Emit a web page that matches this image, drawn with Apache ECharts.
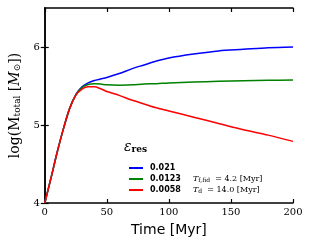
<!DOCTYPE html>
<html><head><meta charset="utf-8">
<script src="https://cdn.jsdelivr.net/npm/echarts@6/dist/echarts.min.js"></script>
<style>html,body{margin:0;padding:0;background:#fff}#c{width:312px;height:249px}</style>
</head><body><div id="c"></div>
<script>
const time = [0,5,10,15,20,25,30,35,40,45,50,60,70,80,90,100,120,140,160,180,200];
const blue  = [4.0,4.32,4.65,4.95,5.21,5.39,5.49,5.54,5.57,5.59,5.61,5.66,5.72,5.77,5.82,5.86,5.91,5.95,5.97,5.99,6.0];
const green = [4.0,4.32,4.65,4.95,5.21,5.385,5.48,5.52,5.53,5.525,5.515,5.51,5.515,5.525,5.53,5.54,5.55,5.56,5.567,5.573,5.578];
const red   = [4.0,4.32,4.65,4.95,5.21,5.38,5.46,5.49,5.49,5.465,5.43,5.38,5.32,5.27,5.22,5.18,5.10,5.02,4.94,4.87,4.79];
const seriesNames = ['0.021','0.0123','0.0058'];
const seriesColors = ['#0000ff','#008000','#ff0000'];
const xTicks = [0,50,100,150,200];
const yTicks = [4,5,6];

const pairs = arr => time.map((t,i)=>[t,arr[i]]);
const chart = echarts.init(document.getElementById('c'), null, {renderer:'canvas'});
const serif = 'DejaVu Serif';
const axisCommon = {
  axisLine:{show:true,lineStyle:{color:'#000',width:1.5}},
  splitLine:{show:false}
};
chart.setOption({
  animation:false,
  grid:{left:41,right:19,top:8,bottom:46},
  xAxis:[
    Object.assign({type:'value',min:0,max:200,interval:50,position:'bottom',
      name:'Time [Myr]',nameLocation:'middle',nameGap:20,
      nameTextStyle:{fontFamily:'DejaVu Sans',fontSize:14,color:'#000'},
      axisTick:{inside:true,length:4,lineStyle:{color:'#000',width:1.2},customValues:xTicks},
      axisLabel:{fontFamily:serif,fontSize:10,color:'#000',margin:4,customValues:xTicks}},axisCommon),
    Object.assign({type:'value',min:0,max:200,interval:50,position:'top',
      axisTick:{inside:true,length:4,lineStyle:{color:'#000',width:1.2},customValues:xTicks},
      axisLabel:{show:false}},axisCommon)
  ],
  yAxis:[
    Object.assign({type:'value',min:4,max:6.5,interval:1,position:'left',
      name:'{a|log(M}{s|total}{a| [}{i|M}{s|⊙}{a|])}',nameLocation:'middle',nameGap:22,nameRotate:90,
      nameTextStyle:{rich:{
        a:{fontFamily:serif,fontSize:14,color:'#000'},
        i:{fontFamily:serif,fontStyle:'italic',fontSize:14,color:'#000'},
        s:{fontFamily:serif,fontSize:9,color:'#000',verticalAlign:'bottom',padding:[6,0,0,0]}
      }},
      axisTick:{inside:true,length:4,lineStyle:{color:'#000',width:1.2},customValues:yTicks},
      axisLabel:{fontFamily:serif,fontSize:10,color:'#000',margin:5,customValues:yTicks}},axisCommon),
    Object.assign({type:'value',min:4,max:6.5,interval:1,position:'right',
      axisTick:{inside:true,length:4,lineStyle:{color:'#000',width:1.2},customValues:yTicks},
      axisLabel:{show:false}},axisCommon)
  ],
  legend:{
    orient:'vertical',left:124,top:159,itemWidth:14,itemHeight:2,itemGap:3,
    icon:'rect',
    textStyle:{fontFamily:'DejaVu Sans',fontWeight:'bold',fontSize:8,color:'#000',padding:[0,0,0,2]},
    data:seriesNames
  },
  graphic:[
    {type:'text',left:124,top:140,style:{
      text:'{e|ε}{s|res}',
      rich:{e:{fontFamily:serif,fontStyle:'italic',fontSize:14,fill:'#000'},
            s:{fontFamily:serif,fontWeight:'bold',fontSize:9,fill:'#000',verticalAlign:'bottom',padding:[6,0,0,0]}}}},
    {type:'text',left:193,top:175,style:{
      text:'{i|T}{s|f,fid}{a|  = 4.2 [Myr]}',
      rich:{i:{fontFamily:serif,fontStyle:'italic',fontSize:8,fill:'#000'},
            s:{fontFamily:serif,fontSize:6,fill:'#000',padding:[3,0,0,0]},
            a:{fontFamily:serif,fontSize:8,fill:'#000'}}}},
    {type:'text',left:193,top:186,style:{
      text:'{i|T}{s|d}{a|  = 14.0 [Myr]}',
      rich:{i:{fontFamily:serif,fontStyle:'italic',fontSize:8,fill:'#000'},
            s:{fontFamily:serif,fontSize:6,fill:'#000',padding:[3,0,0,0]},
            a:{fontFamily:serif,fontSize:8,fill:'#000'}}}}
  ],
  series:[blue,green,red].map((arr,k)=>({
    name:seriesNames[k],type:'line',data:pairs(arr),smooth:0.3,showSymbol:false,
    color:seriesColors[k],lineStyle:{width:1.5,color:seriesColors[k]},
    xAxisIndex:0,yAxisIndex:0,z:2+k
  }))
});
</script></body></html>
